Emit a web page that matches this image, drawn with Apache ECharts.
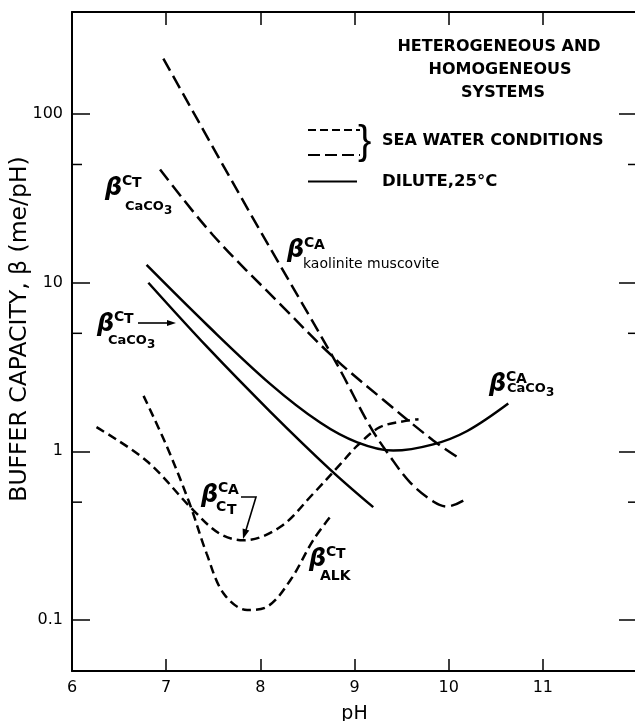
<!DOCTYPE html>
<html>
<head>
<meta charset="utf-8">
<script src="https://cdn.jsdelivr.net/npm/echarts@6/dist/echarts.min.js"></script>
<style>
  html, body { margin: 0; padding: 0; background: #fff; }
  #chart { width: 635px; height: 721px; }
</style>
</head>
<body>
<div id="chart"></div>
<script>
// Buffer capacity beta (me/pH) against pH.

// Sea water, heterogeneous: kaolinite / muscovite, acid-base (C_A)
const phKaolinite   = [6.97, 7.892, 8.806, 9.167, 9.379, 9.592, 9.836, 9.985, 10.155];
const betaKaolinite = [212, 25.7, 3.34, 1.40, 0.93, 0.653, 0.505, 0.471, 0.511];

// Sea water, heterogeneous: calcite, total carbonate (C_T)
const phCaCO3Sea   = [6.935, 7.498, 8.21, 8.795, 9.305, 9.836, 10.102];
const betaCaCO3Sea = [46.7, 19.05, 7.45, 3.53, 2.02, 1.16, 0.918];

// Dilute 25 °C: calcite, acid-base (C_A)
const phCaCO3CA   = [6.792, 7.435, 8.104, 8.635, 9.029, 9.411, 9.836, 10.197, 10.633];
const betaCaCO3CA = [12.7, 5.60, 2.51, 1.48, 1.13, 1.01, 1.10, 1.32, 1.92];

// Dilute 25 °C: calcite, total carbonate (C_T)
const phCaCO3CT   = [6.811, 7.435, 8.104, 8.742, 9.199];
const betaCaCO3CT = [9.96, 4.15, 1.72, 0.78, 0.467];

// Sea water, homogeneous: C_A at constant C_T
const phCACT   = [6.26, 6.79, 7.29, 7.57, 7.82, 8.21, 8.56, 8.85, 9.03, 9.27, 9.56, 9.68];
const betaCACT = [1.39, 0.88, 0.447, 0.325, 0.297, 0.356, 0.56, 0.84, 1.08, 1.39, 1.52, 1.55];

// Sea water, homogeneous: C_T at constant alkalinity
const phALK   = [6.76, 7.01, 7.25, 7.43, 7.61, 7.86, 8.07, 8.32, 8.56, 8.74];
const betaALK = [2.13, 1.06, 0.489, 0.248, 0.144, 0.115, 0.12, 0.173, 0.297, 0.408];

// Axes
const phRange = [6, 12];
const betaRange = [0.05, 400];
const betaMajorTicks = [0.1, 1, 10, 100];
const betaMinorTicks = [0.5, 5, 50];

const FONT = 'DejaVu Sans';
const INK = '#000';
const SHORT_DASH = [9, 5];
const LONG_DASH = [14, 6];

function pairs(xs, ys) { return xs.map((x, i) => [x, ys[i]]); }

function curve(name, xs, ys, dash) {
  return {
    type: 'line', name, data: pairs(xs, ys),
    showSymbol: false, symbol: 'none', smooth: 0.35, silent: true, z: 3,
    lineStyle: { color: INK, width: 2.5, type: dash || 'solid', cap: 'butt' }
  };
}

function txt(x, y, s, size, o) {
  o = o || {};
  return {
    type: 'text', x, y, rotation: o.rot || 0, silent: true, z: 10,
    style: {
      text: s, fill: INK, fontFamily: o.family || FONT, fontSize: size,
      fontWeight: o.weight || 'bold', fontStyle: o.italic ? 'italic' : 'normal',
      align: o.align || 'left', verticalAlign: o.va || 'middle'
    }
  };
}

function seg(x1, y1, x2, y2, w, dash) {
  return {
    type: 'line', silent: true, z: 10,
    shape: { x1, y1, x2, y2 },
    style: { stroke: INK, lineWidth: w || 2, lineDash: dash || null }
  };
}

function arrowHead(fromX, fromY, tipX, tipY, len, half) {
  const dx = tipX - fromX, dy = tipY - fromY;
  const d = Math.hypot(dx, dy), ux = dx / d, uy = dy / d;
  const bx = tipX - ux * len, by = tipY - uy * len;
  return {
    type: 'polygon', silent: true, z: 10,
    shape: { points: [[tipX, tipY], [bx - uy * half, by + ux * half], [bx + uy * half, by - ux * half]] },
    style: { fill: INK }
  };
}

// beta symbol with a two-letter superscript and subscript parts
function betaLabel(x, y, sup, parts) {
  const out = [txt(x, y, 'β', 24, { italic: true, weight: 'bold' })];
  out.push(txt(x + 17, y - 8, sup[0], 14));
  out.push(txt(x + 27, y - 6, sup[1], 14));
  parts.forEach(p => out.push(txt(x + p.dx, y + p.dy, p.t, p.size || 14, p.o || {})));
  return out;
}

// "CaCO" followed by a lowered "3"
function caco3(dx, dy) {
  return [{ dx, dy, t: 'CaCO', size: 13 }, { dx: dx + 39, dy: dy + 4, t: '3', size: 12 }];
}

const graphics = [].concat(
  // heading
  txt(499, 47, 'HETEROGENEOUS AND', 16, { align: 'center' }),
  txt(500, 70, 'HOMOGENEOUS', 16, { align: 'center' }),
  txt(503, 93, 'SYSTEMS', 16, { align: 'center' }),
  // key
  seg(308, 130, 360, 130, 2.2, [8, 4]),
  seg(308, 155, 360, 155, 2.2, [12, 5]),
  seg(308, 181.5, 357, 181.5, 2.2),
  txt(358, 143, '}', 40, { weight: 'normal', family: 'Liberation Sans' }),
  txt(382, 141, 'SEA WATER CONDITIONS', 16),
  txt(382, 182, 'DILUTE,25°C', 16.5),
  // y axis title
  txt(20, 329, 'BUFFER CAPACITY, β (me/pH)', 23.5, { rot: Math.PI / 2, align: 'center', weight: 'normal' }),
  // curve labels
  betaLabel(105, 189, 'CT', caco3(20, 18)),
  betaLabel(97, 325, 'CT', caco3(11, 16)),
  seg(138, 323, 168, 323, 1.6),
  arrowHead(138, 323, 176, 323, 9, 3),
  betaLabel(287, 251, 'CA', [{ dx: 16, dy: 13, t: 'kaolinite muscovite', o: { weight: 'normal' } }]),
  betaLabel(489, 385, 'CA', caco3(18, 4)),
  betaLabel(201, 496, 'CA', [{ dx: 15, dy: 11, t: 'C' }, { dx: 26, dy: 14, t: 'T' }]),
  { type: 'polyline', silent: true, z: 10, shape: { points: [[241, 497], [256, 497], [246, 530]] }, style: { stroke: INK, lineWidth: 1.6, fill: null } },
  arrowHead(256, 497, 243, 539, 10, 3.5),
  betaLabel(309, 560, 'CT', [{ dx: 11, dy: 16, t: 'ALK' }])
);

const axisLine = { show: true, lineStyle: { color: INK, width: 2 } };

const option = {
  animation: false,
  backgroundColor: '#fff',
  grid: { left: 72, top: 12, width: 565, height: 659, containLabel: false, outerBoundsMode: 'none' },
  xAxis: [
    {
      type: 'value', min: phRange[0], max: phRange[1], interval: 1, position: 'bottom',
      axisLine, splitLine: { show: false },
      axisTick: { inside: true, length: 12, lineStyle: { color: INK, width: 1.5 } },
      axisLabel: {
        color: INK, fontFamily: FONT, fontSize: 16, margin: 9,
        formatter: v => (v >= phRange[1] ? '' : String(v))
      },
      name: 'pH', nameLocation: 'middle', nameGap: 34,
      nameTextStyle: { color: INK, fontFamily: FONT, fontSize: 19 }
    },
    {
      type: 'value', min: phRange[0], max: phRange[1], interval: 1, position: 'top',
      axisLine, splitLine: { show: false }, axisLabel: { show: false },
      axisTick: { inside: true, length: 13, lineStyle: { color: INK, width: 1.5 } }
    }
  ],
  yAxis: [
    {
      type: 'log', logBase: 10, min: betaRange[0], max: betaRange[1], position: 'left',
      axisLine, splitLine: { show: false },
      axisTick: { inside: true, length: 18, lineStyle: { color: INK, width: 1.5 } },
      axisLabel: {
        color: INK, fontFamily: FONT, fontSize: 16, margin: 9,
        formatter: v => {
          const hit = betaMajorTicks.find(t => Math.abs(Math.log10(v) - Math.log10(t)) < 1e-6);
          return hit === undefined ? '' : String(hit);
        }
      }
    },
    {
      type: 'log', logBase: 10, min: betaRange[0], max: betaRange[1], position: 'right',
      axisLine, splitLine: { show: false }, axisLabel: { show: false },
      axisTick: { inside: true, length: 18, lineStyle: { color: INK, width: 1.5 } }
    }
  ],
  series: [
    curve('kaolinite muscovite', phKaolinite, betaKaolinite, LONG_DASH),
    curve('CaCO3 sea water', phCaCO3Sea, betaCaCO3Sea, LONG_DASH),
    curve('CaCO3 CA dilute', phCaCO3CA, betaCaCO3CA),
    curve('CaCO3 CT dilute', phCaCO3CT, betaCaCO3CT),
    curve('CA at CT', phCACT, betaCACT, SHORT_DASH),
    curve('CT at ALK', phALK, betaALK, SHORT_DASH),
    {
      // minor (5 x 10^n) ticks on both vertical axes
      type: 'custom', silent: true, clip: false, z: 4,
      data: betaMinorTicks.map(v => [phRange[0], v]),
      renderItem: (params, api) => {
        const v = api.value(1);
        const l = api.coord([phRange[0], v]);
        const r = api.coord([phRange[1], v]);
        return {
          type: 'group', children: [
            { type: 'line', shape: { x1: l[0], y1: l[1], x2: l[0] + 10, y2: l[1] }, style: { stroke: INK, lineWidth: 1.5 } },
            { type: 'line', shape: { x1: r[0] - 9, y1: r[1], x2: r[0], y2: r[1] }, style: { stroke: INK, lineWidth: 1.5 } }
          ]
        };
      }
    }
  ],
  graphic: graphics
};

const chart = echarts.init(document.getElementById('chart'), null, { renderer: 'canvas' });
chart.setOption(option);
</script>
</body>
</html>
